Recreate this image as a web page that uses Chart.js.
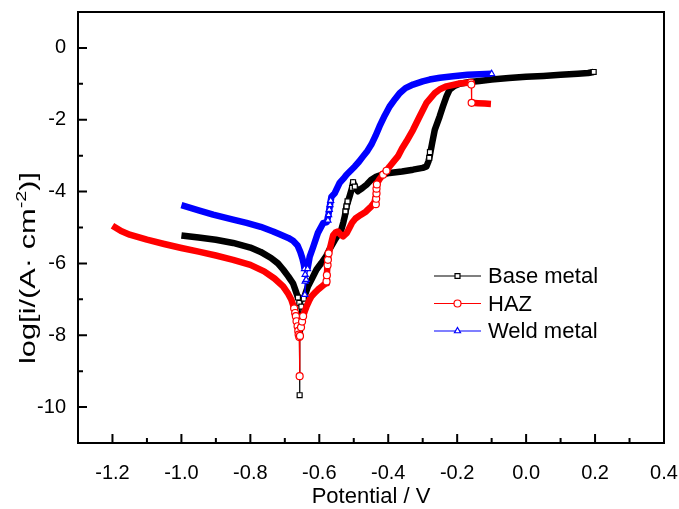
<!DOCTYPE html>
<html>
<head>
<meta charset="utf-8">
<script src="https://cdn.jsdelivr.net/npm/chart.js@4/dist/chart.umd.min.js"></script>
<style>
  body { margin: 0; background: #fff; }
  canvas { display: block; }
</style>
</head>
<body>
<canvas id="tafel" width="679" height="509"></canvas>
<script>
// axis ticks
const xTicks = [-1.2, -1.0, -0.8, -0.6, -0.4, -0.2, 0.0, 0.2, 0.4]
const xMinor = [-1.1, -0.9, -0.7, -0.5, -0.3, -0.1, 0.1, 0.3]
const yTicks = [-10, -8, -6, -4, -2, 0]
const yMinor = [-9, -7, -5, -3, -1]

// Base metal  [E (V), log i]
const baseCathodic = [[-1.00,-5.22],[-0.95,-5.28],[-0.90,-5.34],[-0.85,-5.43],[-0.80,-5.56],[-0.77,-5.68],[-0.74,-5.85],[-0.72,-6.00],[-0.705,-6.17],[-0.69,-6.36],[-0.676,-6.56],[-0.668,-6.78],[-0.662,-6.95]]
const baseEcorr = [[-0.662,-6.95],[-0.658,-7.10],[-0.657,-7.98],[-0.657,-9.67],[-0.656,-7.90],[-0.652,-7.20],[-0.645,-6.98]]
const baseAnodic = [[-0.645,-6.98],[-0.633,-6.64],[-0.62,-6.40],[-0.608,-6.17],[-0.594,-5.99],[-0.58,-5.80],[-0.57,-5.60],[-0.555,-5.35],[-0.536,-5.06],[-0.530,-4.85],[-0.526,-4.69],[-0.521,-4.41],[-0.512,-4.13],[-0.505,-3.90],[-0.502,-3.74],[-0.497,-3.86],[-0.488,-3.99],[-0.475,-3.90],[-0.463,-3.81],[-0.450,-3.68],[-0.434,-3.58],[-0.415,-3.52],[-0.396,-3.48],[-0.360,-3.44],[-0.328,-3.39],[-0.300,-3.34],[-0.289,-3.30],[-0.283,-3.15],[-0.279,-2.98],[-0.272,-2.62],[-0.265,-2.28],[-0.251,-1.91],[-0.241,-1.62],[-0.231,-1.35],[-0.222,-1.16],[-0.210,-1.07],[-0.193,-1.00],[-0.165,-0.95],[-0.135,-0.92],[-0.100,-0.88],[-0.050,-0.84],[0.000,-0.80],[0.050,-0.78],[0.100,-0.75],[0.150,-0.72],[0.180,-0.70],[0.196,-0.67]]
const baseOpen = [[-0.524,-4.55],[-0.521,-4.41],[-0.518,-4.27],[-0.505,-3.90],[-0.502,-3.74],[-0.497,-3.86],[-0.281,-3.06],[-0.279,-2.90],[0.196,-0.67]]

// HAZ
const hazCathodic = [[-1.20,-4.95],[-1.175,-5.10],[-1.15,-5.20],[-1.10,-5.34],[-1.05,-5.46],[-1.00,-5.57],[-0.95,-5.67],[-0.90,-5.78],[-0.85,-5.90],[-0.80,-6.04],[-0.76,-6.22],[-0.73,-6.42],[-0.705,-6.64],[-0.69,-6.85],[-0.681,-7.01],[-0.673,-7.25]]
const hazEcorr = [[-0.673,-7.25],[-0.670,-7.38],[-0.668,-7.47],[-0.666,-7.61],[-0.663,-7.75],[-0.661,-7.88],[-0.660,-7.98],[-0.658,-8.05],[-0.657,-9.14],[-0.656,-8.02],[-0.653,-7.78],[-0.650,-7.62],[-0.647,-7.47]]
const hazAnodic = [[-0.647,-7.47],[-0.642,-7.33],[-0.637,-7.20],[-0.630,-7.05],[-0.623,-6.92],[-0.613,-6.82],[-0.604,-6.73],[-0.590,-6.62],[-0.580,-6.55],[-0.578,-6.30],[-0.576,-6.02],[-0.574,-5.80],[-0.570,-5.62],[-0.565,-5.42],[-0.560,-5.22],[-0.553,-5.14],[-0.546,-5.11],[-0.538,-5.20],[-0.531,-5.25],[-0.520,-5.15],[-0.512,-5.00],[-0.505,-4.87],[-0.495,-4.75],[-0.480,-4.65],[-0.465,-4.56],[-0.449,-4.41],[-0.440,-4.30],[-0.436,-4.12],[-0.434,-3.92],[-0.432,-3.76],[-0.425,-3.65],[-0.415,-3.53],[-0.405,-3.42],[-0.396,-3.30],[-0.384,-3.16],[-0.372,-3.02],[-0.360,-2.80],[-0.347,-2.60],[-0.328,-2.28],[-0.309,-1.91],[-0.289,-1.53],[-0.265,-1.26],[-0.250,-1.15],[-0.231,-1.07],[-0.193,-0.99],[-0.170,-0.97],[-0.160,-0.97]]
const hazStep = [[-0.160,-0.97],[-0.159,-1.02],[-0.158,-1.53]]
const hazTail = [[-0.158,-1.53],[-0.140,-1.54],[-0.120,-1.55],[-0.102,-1.56]]
const hazOpen = [[-0.579,-6.50],[-0.578,-6.33],[-0.576,-6.05],[-0.575,-5.90],[-0.573,-5.72],[-0.436,-4.35],[-0.435,-4.20],[-0.434,-4.05],[-0.434,-3.92],[-0.433,-3.80],[-0.415,-3.53],[-0.405,-3.42]]

// Weld metal
const weldCathodic = [[-1.00,-4.38],[-0.95,-4.52],[-0.908,-4.64],[-0.85,-4.78],[-0.811,-4.87],[-0.77,-4.98],[-0.734,-5.11],[-0.715,-5.19],[-0.69,-5.29],[-0.676,-5.37],[-0.663,-5.50],[-0.655,-5.68],[-0.649,-5.86],[-0.645,-6.02],[-0.643,-6.15]]
const weldEcorr = [[-0.643,-6.15],[-0.641,-6.31],[-0.641,-6.50],[-0.642,-6.87],[-0.638,-6.45],[-0.634,-6.15]]
const weldAnodic = [[-0.634,-6.15],[-0.628,-5.82],[-0.618,-5.55],[-0.604,-5.15],[-0.589,-4.88],[-0.578,-4.85],[-0.573,-4.62],[-0.569,-4.38],[-0.565,-4.15],[-0.555,-4.04],[-0.541,-3.76],[-0.530,-3.64],[-0.521,-3.53],[-0.497,-3.30],[-0.485,-3.17],[-0.473,-3.02],[-0.460,-2.86],[-0.449,-2.69],[-0.437,-2.45],[-0.425,-2.18],[-0.410,-1.88],[-0.396,-1.63],[-0.380,-1.42],[-0.367,-1.26],[-0.350,-1.12],[-0.328,-1.02],[-0.300,-0.93],[-0.280,-0.88],[-0.250,-0.83],[-0.212,-0.79],[-0.170,-0.75],[-0.135,-0.73],[-0.100,-0.72]]
const weldOpen = [[-0.575,-4.80],[-0.573,-4.65],[-0.571,-4.50],[-0.569,-4.37],[-0.567,-4.25],[-0.100,-0.72]]

const FONT = "'Liberation Sans', Arial, sans-serif"
const series = [
  { label: 'Base metal', color: '#000000', marker: 'rect', parts: [baseCathodic, baseAnodic], thin: [baseEcorr], open: baseOpen, order: 3 },
  { label: 'HAZ', color: '#ff0000', marker: 'circle', parts: [hazCathodic, hazAnodic, hazTail], thin: [hazEcorr, hazStep], open: hazOpen, order: 2 },
  { label: 'Weld metal', color: '#0000ff', marker: 'triangle', parts: [weldCathodic, weldAnodic], thin: [weldEcorr], open: weldOpen, order: 1 }
]

const xy = arr => arr.map(([x, y]) => ({ x, y }))

const datasets = []
series.forEach(s => {
  // dense scan: markers merge into a solid band
  s.parts.forEach(p => datasets.push({
    data: xy(p), showLine: true, borderColor: s.color, borderWidth: 6.5,
    borderJoinStyle: 'round', pointRadius: 0, order: s.order + 0.5
  }))
  // sparse points near Ecorr / current jumps
  s.thin.forEach(p => datasets.push({
    data: xy(p), showLine: true, borderColor: s.color, borderWidth: 1.2,
    pointStyle: s.marker, pointRadius: 3.5, pointBorderWidth: 1.2,
    pointBorderColor: s.color, pointBackgroundColor: '#ffffff', order: s.order + 0.3
  }))
  datasets.push({
    data: xy(s.open), showLine: false, pointStyle: s.marker, pointRadius: 3.5,
    pointBorderWidth: 1.2, pointBorderColor: s.color, pointBackgroundColor: '#ffffff', order: s.order
  })
})

const frameTicks = {
  id: 'frameTicks',
  afterDatasetsDraw(chart) {
    const { ctx, chartArea: a, scales: { x, y } } = chart
    ctx.save()
    ctx.strokeStyle = '#000'
    ctx.lineWidth = 2
    ctx.strokeRect(a.left, a.top, a.right - a.left, a.bottom - a.top)
    ctx.beginPath()
    const tx = (v, len) => { const p = x.getPixelForValue(v); ctx.moveTo(p, a.bottom); ctx.lineTo(p, a.bottom - len) }
    const ty = (v, len) => { const p = y.getPixelForValue(v); ctx.moveTo(a.left, p); ctx.lineTo(a.left + len, p) }
    xTicks.forEach(v => tx(v, 9))
    xMinor.forEach(v => tx(v, 5))
    yTicks.forEach(v => ty(v, 9))
    yMinor.forEach(v => ty(v, 5))
    ctx.stroke()

    // legend: line + open marker + label
    const lx = a.left + 356, ly = a.top + 264
    series.forEach((s, i) => {
      const yy = ly + i * 27.5
      ctx.strokeStyle = s.color
      ctx.lineWidth = 1.2
      ctx.beginPath()
      ctx.moveTo(lx, yy)
      ctx.lineTo(lx + 47, yy)
      ctx.stroke()
      ctx.fillStyle = '#ffffff'
      Chart.helpers.drawPoint(ctx, { pointStyle: s.marker, radius: 3.5, borderWidth: 1.2, rotation: 0 }, lx + 23.5, yy)
      ctx.fillStyle = '#000'
      ctx.font = '22px ' + FONT
      ctx.textBaseline = 'middle'
      ctx.fillText(s.label, lx + 54, yy + 1)
    })
    ctx.restore()
  }
}

// y title with a raised exponent, drawn wide like the Origin export
const yTitle = {
  id: 'yTitle',
  afterDraw(chart) {
    const ctx = chart.ctx
    ctx.save()
    ctx.translate(35, 364)
    ctx.rotate(-Math.PI / 2)
    ctx.scale(1.4, 1)
    ctx.fillStyle = '#000'
    ctx.textBaseline = 'alphabetic'
    let pos = 0
    const put = (t, size, dy) => {
      ctx.font = size + 'px ' + FONT
      ctx.fillText(t, pos, dy)
      pos += ctx.measureText(t).width
    }
    put('log[i/(A· cm', 22, 0)
    put('-2', 14, -9)
    put(')]', 22, 0)
    ctx.restore()
  }
}

new Chart(document.getElementById('tafel'), {
  type: 'scatter',
  data: { datasets },
  options: {
    responsive: false,
    animation: false,
    events: [],
    layout: { padding: { top: 12, right: 15, left: 0, bottom: 0 } },
    plugins: { legend: { display: false }, tooltip: { enabled: false } },
    scales: {
      x: {
        type: 'linear', min: -1.3, max: 0.4,
        grid: { display: false, drawTicks: false }, border: { display: false },
        afterBuildTicks: sc => { sc.ticks = xTicks.map(v => ({ value: v })) },
        afterFit: sc => { sc.height = 66; sc.paddingLeft = 0; sc.paddingRight = 0 },
        ticks: { color: '#000', padding: 18, maxRotation: 0, autoSkip: false,
          font: { family: FONT, size: 20 }, callback: v => v.toFixed(1) },
        title: { display: true, text: 'Potential / V', color: '#000',
          font: { family: FONT, size: 22, lineHeight: 1 }, padding: { top: 0, bottom: 1 } }
      },
      y: {
        type: 'linear', min: -11, max: 1,
        grid: { display: false, drawTicks: false }, border: { display: false },
        afterBuildTicks: sc => { sc.ticks = yTicks.map(v => ({ value: v })) },
        afterFit: sc => { sc.width = 78; sc.paddingTop = 0; sc.paddingBottom = 0 },
        ticks: { color: '#000', padding: 12, autoSkip: false,
          font: { family: FONT, size: 20 }, callback: v => String(v) },
        title: { display: false }
      }
    }
  },
  plugins: [frameTicks, yTitle]
})
</script>
</body>
</html>
